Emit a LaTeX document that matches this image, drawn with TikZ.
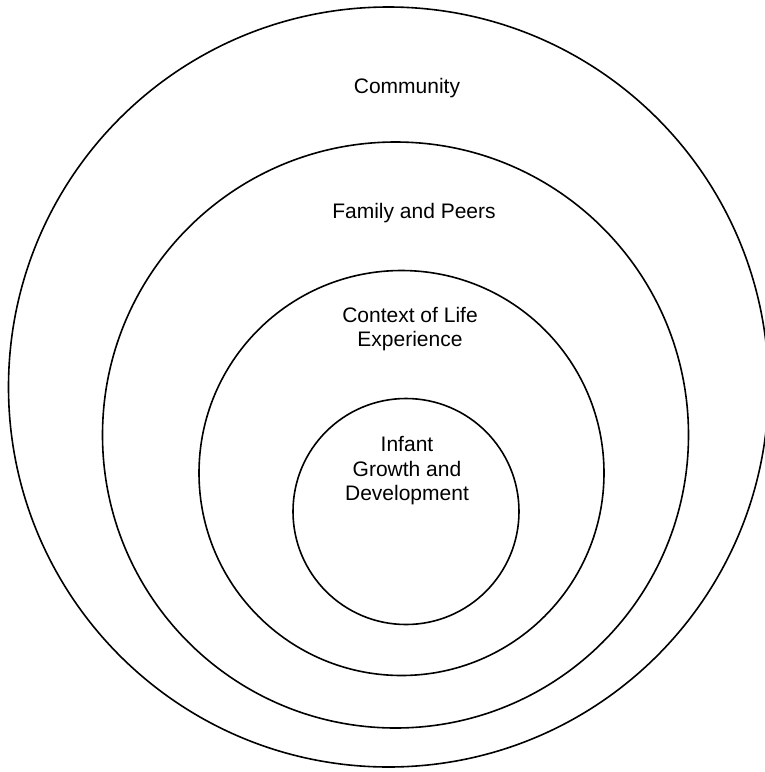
\documentclass[tikz,border=0pt]{standalone}
\usepackage{fontspec}
\setmainfont{Liberation Sans}
\usetikzlibrary{shapes.geometric}
\begin{document}
\begin{tikzpicture}[x=1pt,y=-1pt,
  ring/.style={draw, circle, line width=1.6pt, inner sep=0pt},
  lbl/.style={font=\fontsize{21}{24.5}\selectfont, align=center, inner sep=0pt}]
\useasboundingbox[fill=white] (0,0) rectangle (765,772);
\clip (0,0) rectangle (765,772);
\node[ring, minimum size=760pt] (community) at (388.5,387) {};
\node[ring, minimum size=586pt] (family) at (395.5,435) {};
\node[ring, minimum size=405pt] (context) at (401.5,473) {};
\node[ring, minimum size=226pt] (infant) at (406,511.5) {};
\node[lbl] (communitytext) at (407,88) {Community};
\node[lbl] (familytext) at (414,213) {Family and Peers};
\node[lbl] (contexttext) at (410,329) {Context of Life\\Experience};
\node[lbl] (infanttext) at (407,471) {Infant\\Growth and\\Development};
\end{tikzpicture}
\end{document}
